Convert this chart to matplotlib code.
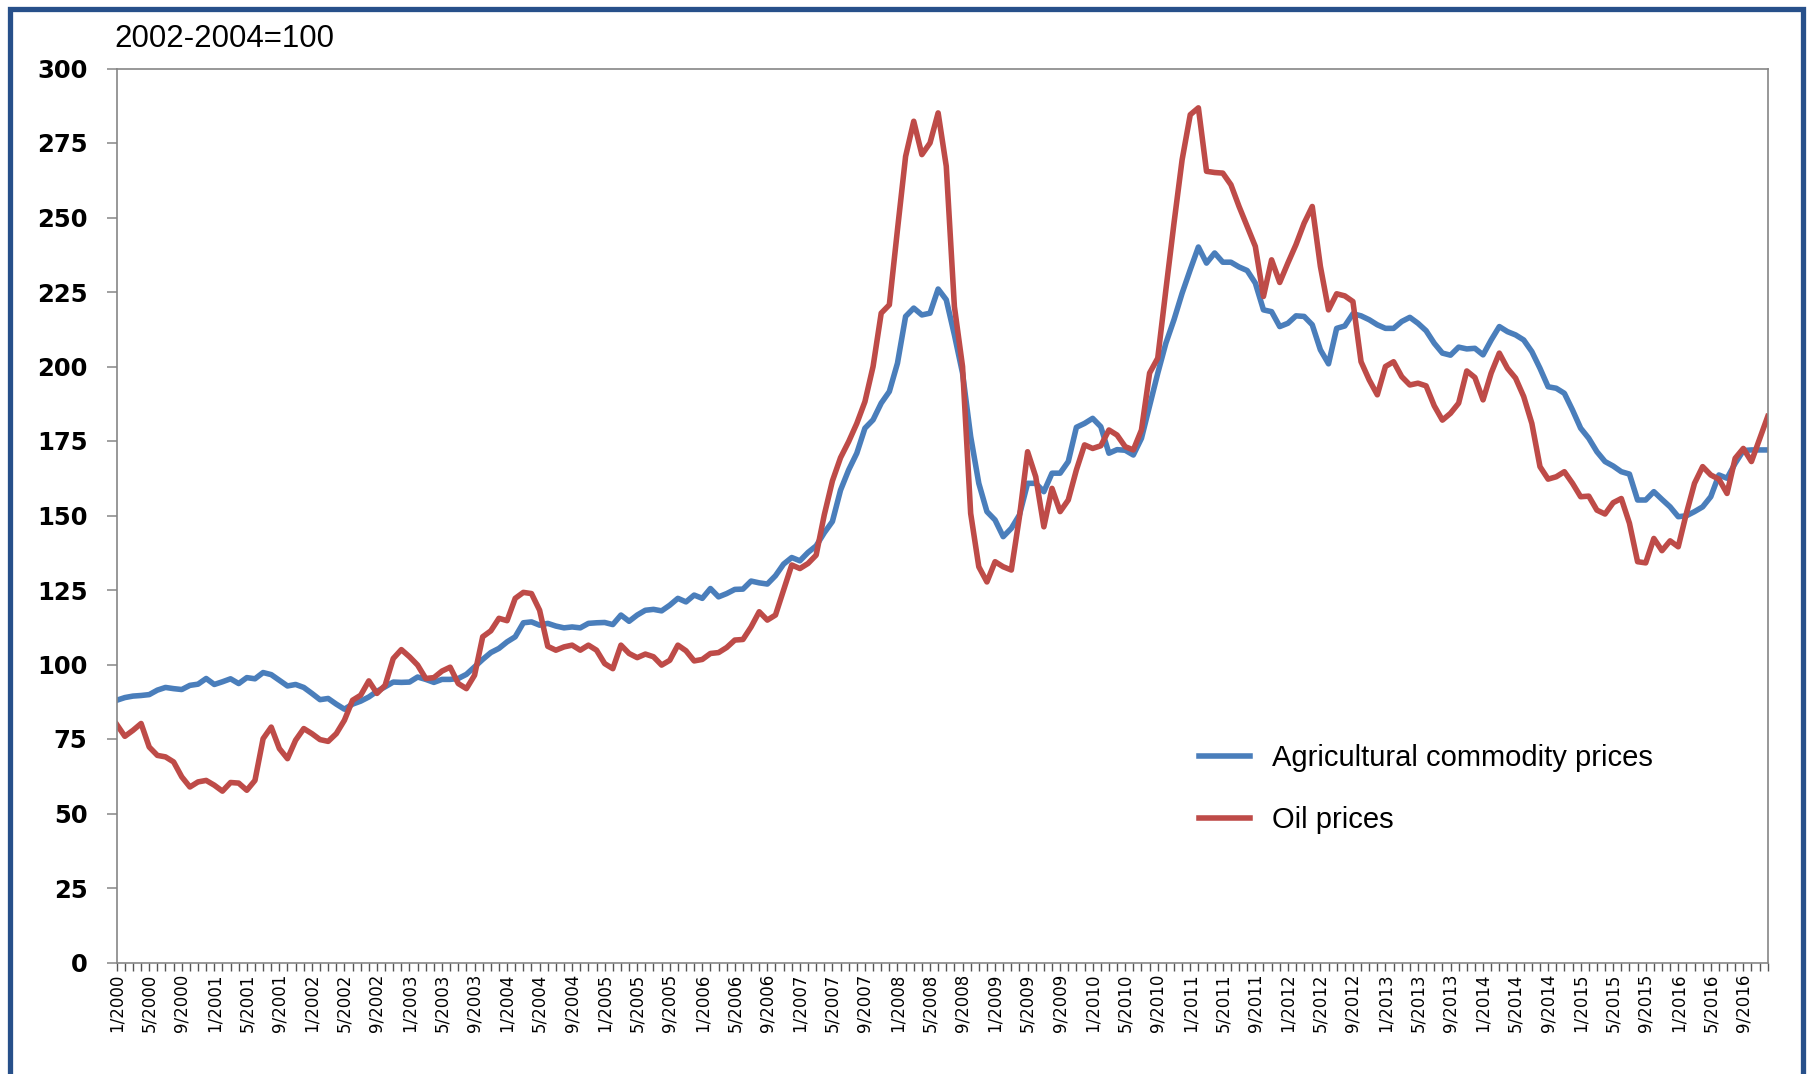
import matplotlib
matplotlib.use("Agg")
import matplotlib.pyplot as plt
from matplotlib.patches import Rectangle

# monthly index values, 2002-2004=100, Jan 2000 .. Dec 2016
agri = [
    88.0, 88.9, 89.4, 89.6, 89.9, 91.4, 92.3, 91.9, 91.6, 93.0, 93.4, 95.3,          # 2000
    93.3, 94.2, 95.2, 93.6, 95.6, 95.2, 97.3, 96.6, 94.7, 92.8, 93.3, 92.3,          # 2001
    90.3, 88.2, 88.6, 86.7, 85.0, 86.7, 87.7, 89.1, 91.0, 92.5, 94.1, 94.0,          # 2002
    94.1, 95.8, 95.0, 94.0, 95.0, 95.0, 95.3, 96.7, 99.2, 101.7, 104.0, 105.4,       # 2003
    107.6, 109.3, 114.0, 114.3, 113.2, 113.8, 112.9, 112.3, 112.6, 112.3, 113.8, 114.0,  # 2004
    114.1, 113.4, 116.6, 114.5, 116.6, 118.2, 118.5, 118.0, 119.9, 122.2, 121.0, 123.3,  # 2005
    122.2, 125.5, 122.7, 123.8, 125.2, 125.3, 128.0, 127.4, 127.0, 129.8, 133.7, 135.9,  # 2006
    134.8, 137.6, 139.8, 144.2, 148.0, 158.5, 165.3, 170.9, 179.3, 182.1, 187.7, 191.6,  # 2007
    201.1, 216.8, 219.6, 217.3, 217.9, 226.0, 222.4, 210.6, 197.8, 176.5, 160.8, 151.3,  # 2008
    148.5, 142.9, 145.7, 150.2, 160.8, 160.8, 158.0, 164.2, 164.2, 168.1, 179.6, 180.9,  # 2009
    182.6, 179.8, 170.9, 172.1, 171.9, 170.3, 175.9, 186.8, 197.7, 207.8, 215.7, 224.6,  # 2010
    232.5, 240.1, 234.7, 238.1, 235.0, 235.0, 233.4, 232.2, 228.0, 219.0, 218.4, 213.4,  # 2011
    214.5, 217.0, 216.8, 214.0, 205.6, 200.9, 212.8, 213.6, 217.7, 217.0, 215.7, 214.0,  # 2012
    212.8, 212.8, 215.1, 216.5, 214.5, 212.0, 207.8, 204.5, 203.8, 206.5, 205.9, 206.1,  # 2013
    203.9, 208.9, 213.4, 211.7, 210.6, 208.9, 205.0, 199.4, 193.2, 192.7, 191.0, 185.4,  # 2014
    179.3, 175.9, 171.4, 168.1, 166.6, 164.7, 163.9, 155.2, 155.2, 158.0, 155.4, 152.9,  # 2015
    149.6, 149.9, 151.3, 152.9, 156.3, 163.6, 162.5, 167.5, 171.8, 172.0, 172.0, 172.0,  # 2016
]

oil = [
    79.9, 75.9, 77.9, 80.2, 72.3, 69.5, 69.0, 67.3, 62.3, 58.9, 60.6, 61.1,          # 2000
    59.5, 57.5, 60.4, 60.2, 57.8, 61.1, 75.1, 79.0, 71.8, 68.4, 74.6, 78.5,          # 2001
    76.8, 74.8, 74.2, 76.8, 81.3, 88.0, 89.7, 94.5, 90.3, 93.0, 102.0, 105.0,        # 2002
    102.6, 99.8, 95.3, 95.6, 97.8, 99.1, 93.6, 91.9, 96.4, 109.3, 111.3, 115.5,      # 2003
    114.7, 122.2, 124.2, 123.8, 118.2, 106.1, 104.8, 105.9, 106.5, 104.8, 106.5, 104.8,  # 2004
    100.3, 98.6, 106.5, 103.7, 102.3, 103.5, 102.6, 99.8, 101.4, 106.5, 104.6, 101.2,    # 2005
    101.7, 103.7, 104.0, 105.7, 108.2, 108.4, 112.6, 117.7, 114.9, 116.6, 125.0, 133.4,  # 2006
    132.2, 133.9, 136.7, 150.2, 161.6, 169.4, 174.8, 180.9, 188.2, 200.0, 217.9, 220.7,  # 2007
    245.9, 270.5, 282.3, 271.1, 275.0, 285.1, 267.2, 220.1, 200.0, 150.7, 132.8, 127.7,  # 2008
    134.5, 132.8, 131.7, 149.6, 171.4, 163.0, 146.2, 159.1, 151.3, 155.2, 165.3, 173.7,  # 2009
    172.5, 173.4, 178.7, 177.0, 173.1, 172.0, 178.7, 197.8, 202.8, 225.7, 248.1, 269.4,  # 2010
    284.5, 286.8, 265.5, 265.1, 264.9, 261.0, 253.7, 247.0, 240.3, 223.5, 235.8, 228.2,  # 2011
    234.7, 240.9, 248.1, 253.7, 233.6, 219.0, 224.4, 223.7, 221.8, 201.6, 195.5, 190.5,  # 2012
    200.0, 201.6, 196.6, 193.8, 194.4, 193.5, 186.8, 182.0, 184.3, 187.7, 198.5, 196.3,  # 2013
    188.8, 197.8, 204.5, 199.4, 196.1, 189.9, 180.9, 166.4, 162.2, 163.0, 164.7, 160.8,  # 2014
    156.3, 156.5, 151.8, 150.5, 154.3, 155.7, 147.4, 134.5, 134.1, 142.3, 138.2, 141.5,  # 2015
    139.5, 150.7, 160.8, 166.4, 163.6, 162.2, 157.4, 169.2, 172.5, 168.1, 175.6, 183.2,  # 2016
]

years = list(range(2000, 2017))
months = [f"{m}/{y}" for y in years for m in range(1, 13)]
label_months = (1, 5, 9)
yticks = list(range(0, 301, 25))

blue = "#4A7EBB"
red = "#BE4B48"
spine_col = "#868686"

fig = plt.figure(figsize=(18.08, 10.74), dpi=100)
ax = fig.add_axes([116.7 / 1808, 1 - 962.5 / 1074, (1767.7 - 116.7) / 1808, (962.5 - 68.5) / 1074])

x = list(range(len(months)))
ax.plot(x, agri, color=blue, lw=4.0, label="Agricultural commodity prices", solid_joinstyle="round")
ax.plot(x, oil, color=red, lw=4.0, label="Oil prices", solid_joinstyle="round")

ax.set_xlim(0, len(months) - 1)
ax.set_ylim(0, 300)

ax.set_yticks(yticks)
ax.set_yticklabels([str(v) for v in yticks], fontsize=17.5, fontweight="bold", family="DejaVu Sans")
ax.tick_params(axis="y", length=7, width=1.1, color=spine_col, pad=14)

ax.set_xticks(x)
ax.set_xticklabels([m if int(m.split("/")[0]) in label_months else "" for m in months],
                   rotation=90, fontsize=12, family="DejaVu Sans", va="top", ha="center")
ax.tick_params(axis="x", length=6, width=1.0, color="#555555", pad=2)

for s in ax.spines.values():
    s.set_color(spine_col)
    s.set_linewidth(1.2)

leg = ax.legend(loc="upper left", bbox_to_anchor=(0.6556, 0.244), frameon=False,
                prop={"family": "Liberation Sans", "size": 21}, handlelength=1.75,
                handletextpad=0.75, labelspacing=1.17, borderpad=0, borderaxespad=0)
for h in leg.get_lines():
    h.set_linewidth(4.0)

fig.text(114 / 1808, 1 - 39 / 1074, "2002-2004=100", fontsize=22.5, family="Liberation Sans",
         va="center", ha="left")

fig.patches.append(Rectangle((9.5 / 1808, -0.05), (1803.5 - 9.5) / 1808, 1.05 - 8.5 / 1074,
                             transform=fig.transFigure, fill=False, edgecolor="#27508A", lw=3.8))

fig.savefig("out.png", dpi=100)
